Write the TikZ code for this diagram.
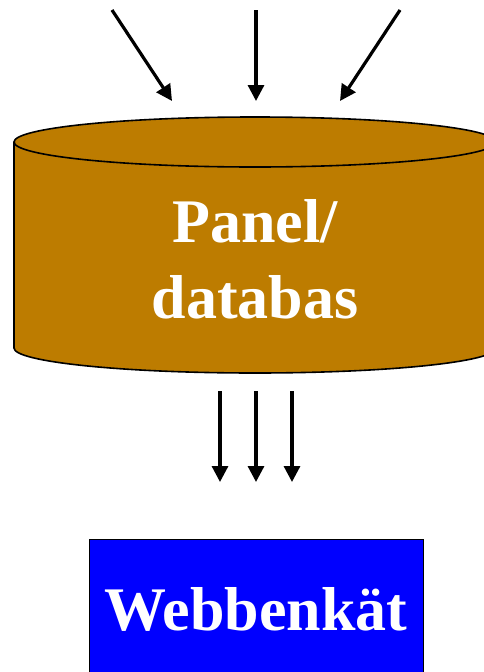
\documentclass[tikz,border=0pt]{standalone}
\usepackage{fontspec}
\setmainfont{Liberation Serif}
\usetikzlibrary{arrows.meta}
\definecolor{panelbrown}{RGB}{189,124,0}
\definecolor{surveyblue}{RGB}{0,0,255}
\begin{document}
\begin{tikzpicture}[x=1pt,y=-1pt,
  flow/.style={line width=3.2pt,-{Triangle[length=16pt,width=16pt]}},
  outline/.style={line width=1.6pt,draw=black},
  label/.style={text=white,font=\fontsize{62}{70}\selectfont\bfseries,inner sep=0pt,anchor=base}]
\useasboundingbox (0,0) rectangle (484,672);
% cylinder body
\fill[panelbrown] (14,142) -- (14,348) arc[start angle=180,end angle=360,x radius=241,y radius=-25] -- (496,142) -- cycle;
\draw[outline] (14,142) -- (14,348) arc[start angle=180,end angle=360,x radius=241,y radius=-25] -- (496,142);
\draw[outline,fill=panelbrown] (255,142) ellipse[x radius=241,y radius=25];
\node[label] (panel) at (255,242) {Panel/};
\node[label] (db) at (255,318) {databas};
% incoming arrows
\coordinate (s1) at (112,10);
\coordinate (s2) at (256,10);
\coordinate (s3) at (400,10);
\coordinate (e1) at (172,101);
\coordinate (e2) at (256,101);
\coordinate (e3) at (340,101);
\draw[flow] (s1) -- (e1);
\draw[flow] (s2) -- (e2);
\draw[flow] (s3) -- (e3);
% outgoing arrows
\foreach \i/\x in {1/220,2/256,3/292}{
  \coordinate (o\i) at (\x,391);
  \coordinate (t\i) at (\x,482);
  \draw[flow] (o\i) -- (t\i);
}
% survey box
\node[draw=black,line width=1.4pt,fill=surveyblue,minimum width=334pt,minimum height=160pt,anchor=north west,inner sep=0pt] (web) at (89,539) {};
\node[label] (webtext) at (256,630) {Webbenkät};
\end{tikzpicture}
\end{document}
